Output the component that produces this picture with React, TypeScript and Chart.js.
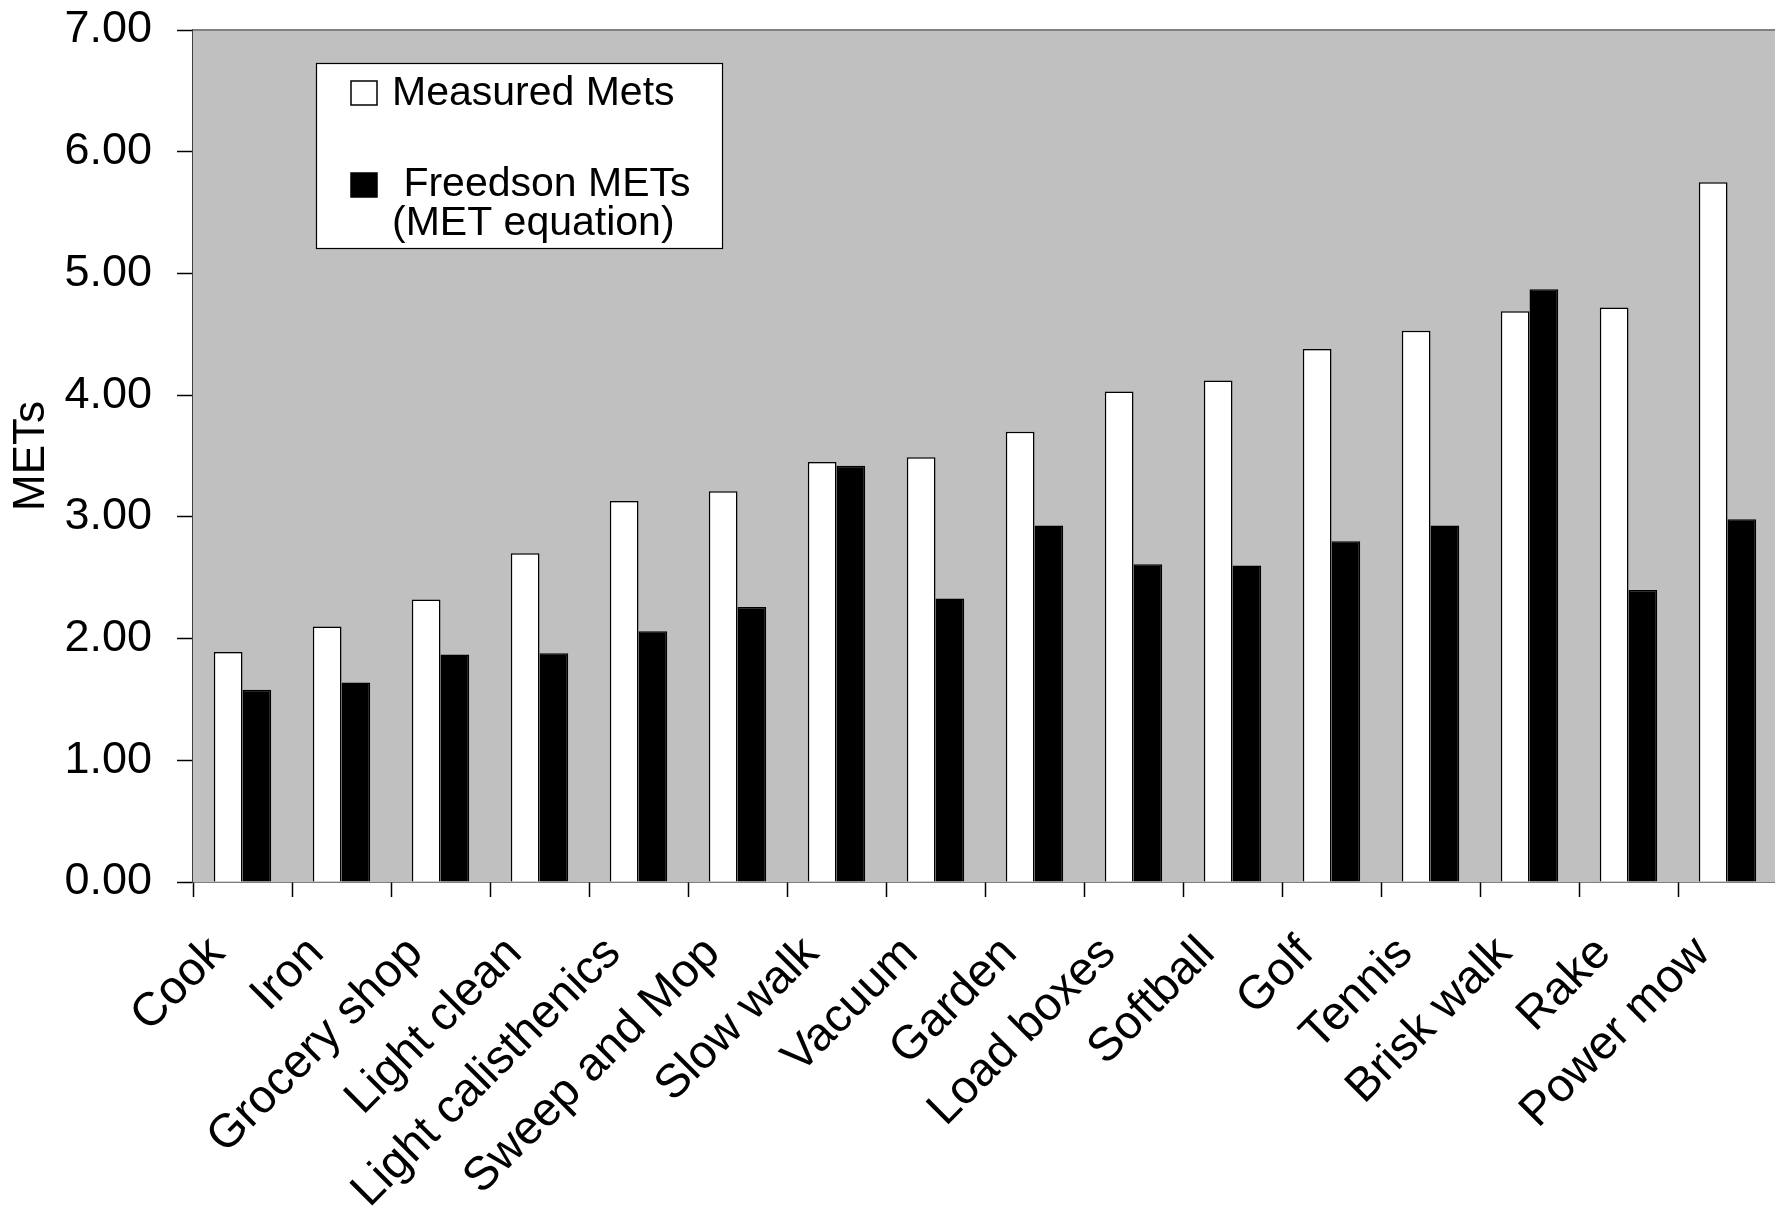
import React, { useEffect, useRef } from "react";
import { Chart, registerables } from "chart.js";

Chart.register(...registerables);

const categories = [
  "Cook",
  "Iron",
  "Grocery shop",
  "Light clean",
  "Light calisthenics",
  "Sweep and Mop",
  "Slow walk",
  "Vacuum",
  "Garden",
  "Load boxes",
  "Softball",
  "Golf",
  "Tennis",
  "Brisk walk",
  "Rake",
  "Power mow",
];

const measuredMets = [1.89, 2.1, 2.32, 2.7, 3.13, 3.21, 3.45, 3.49, 3.7, 4.03, 4.12, 4.38, 4.53, 4.69, 4.72, 5.75];
const freedsonMets = [1.58, 1.64, 1.87, 1.88, 2.06, 2.26, 3.42, 2.33, 2.93, 2.61, 2.6, 2.8, 2.93, 4.87, 2.4, 2.98];

const seriesLabels = ["Measured Mets", " Freedson METs\n(MET equation)"];
const yTicks = [0, 1, 2, 3, 4, 5, 6, 7];
const yTitle = "METs";

const FONT = '"Liberation Sans", Arial, Helvetica, sans-serif';

// Grey plot background plus the thin grey frame line along the top.
const plotBackground = {
  id: "plotBackground",
  beforeDatasetsDraw(chart: any) {
    const { ctx, chartArea } = chart;
    ctx.save();
    ctx.fillStyle = "#c0c0c0";
    ctx.fillRect(chartArea.left, chartArea.top, chartArea.right - chartArea.left, chartArea.bottom - chartArea.top);
    ctx.strokeStyle = "#808080";
    ctx.lineWidth = 2;
    ctx.beginPath();
    ctx.moveTo(chartArea.left, chartArea.top);
    ctx.lineTo(chartArea.right, chartArea.top);
    ctx.stroke();
    ctx.restore();
  },
};

// Boxed legend sitting inside the plot, upper left.
const boxedLegend = {
  id: "boxedLegend",
  afterDatasetsDraw(chart: any) {
    const { ctx, chartArea } = chart;
    const x0 = chartArea.left + 123;
    const y0 = chartArea.top + 33;
    ctx.save();
    ctx.fillStyle = "#ffffff";
    ctx.fillRect(x0, y0, 406, 185);
    ctx.strokeStyle = "#000000";
    ctx.lineWidth = 1.2;
    ctx.strokeRect(x0 + 0.5, y0 + 0.5, 406, 185);

    const swatchY = [18, 110];
    const baselines = [[42], [133, 172]];
    ctx.font = `41px ${FONT}`;
    ctx.textBaseline = "alphabetic";
    ctx.textAlign = "left";
    chart.data.datasets.forEach((ds: any, i: number) => {
      ctx.fillStyle = ds.backgroundColor;
      ctx.fillRect(x0 + 35, y0 + swatchY[i], 26, 24);
      ctx.strokeStyle = "#000000";
      ctx.lineWidth = 1.5;
      ctx.strokeRect(x0 + 35, y0 + swatchY[i], 26, 24);
      ctx.fillStyle = "#000000";
      String(ds.label)
        .split("\n")
        .forEach((line: string, j: number) => {
          ctx.fillText(line, x0 + 76, y0 + baselines[i][j]);
        });
    });
    ctx.restore();
  },
};

export default function App() {
  const canvasRef = useRef<HTMLCanvasElement | null>(null);

  useEffect(() => {
    if (!canvasRef.current) return;
    Chart.defaults.font.family = FONT;
    const chart = new Chart(canvasRef.current, {
      type: "bar",
      data: {
        labels: categories,
        datasets: [
          {
            label: seriesLabels[0],
            data: measuredMets,
            backgroundColor: "#ffffff",
            borderColor: "#000000",
            borderWidth: 1.5,
            categoryPercentage: 0.58,
            barPercentage: 1,
          },
          {
            label: seriesLabels[1],
            data: freedsonMets,
            backgroundColor: "#000000",
            borderColor: "#000000",
            borderWidth: 1.5,
            categoryPercentage: 0.58,
            barPercentage: 1,
          },
        ],
      },
      options: {
        responsive: false,
        animation: false,
        events: [],
        layout: { padding: { top: 30, left: 0, right: 3, bottom: 0 } },
        plugins: {
          legend: { display: false },
          tooltip: { enabled: false },
        },
        scales: {
          x: {
            grid: {
              drawOnChartArea: false,
              tickLength: 15,
              tickColor: "#000000",
              tickWidth: 1.5,
              offset: true,
            },
            border: { color: "#000000", width: 1.5 },
            ticks: {
              color: "#000000",
              font: { size: 47, family: FONT },
              minRotation: 45,
              maxRotation: 45,
              autoSkip: false,
              labelOffset: -25,
              padding: 29,
            },
            afterFit(scale: any) {
              scale.height = 329;
              scale.paddingLeft = 0;
              scale.paddingRight = 0;
            },
          },
          y: {
            min: 0,
            max: 7,
            afterBuildTicks(scale: any) {
              scale.ticks = yTicks.map((v) => ({ value: v }));
            },
            grid: {
              drawOnChartArea: false,
              tickLength: 16,
              tickColor: "#000000",
              tickWidth: 1.5,
            },
            border: { color: "#404040", width: 2 },
            ticks: {
              color: "#000000",
              font: { size: 45, family: FONT },
              padding: 25,
              callback: (v: any) => Number(v).toFixed(2),
            },
            title: {
              display: true,
              text: yTitle,
              color: "#000000",
              font: { size: 44, family: FONT },
              padding: { top: 5, bottom: 0 },
            },
            afterFit(scale: any) {
              scale.width = 193;
              scale.paddingTop = 0;
              scale.paddingBottom = 0;
            },
          },
        },
      },
      plugins: [plotBackground, boxedLegend],
    });
    return () => chart.destroy();
  }, []);

  return (
    <div style={{ position: "fixed", left: 0, top: 0, width: 1780, height: 1211, background: "#ffffff" }}>
      <canvas ref={canvasRef} width={1780} height={1211} style={{ display: "block" }} />
    </div>
  );
}
